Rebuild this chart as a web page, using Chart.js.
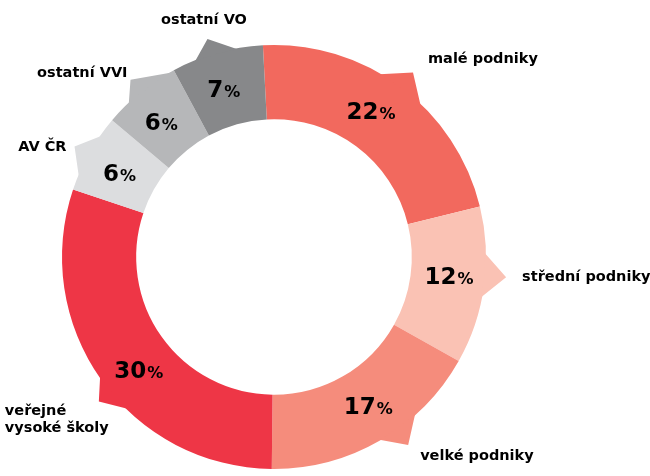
<!DOCTYPE html>
<html>
<head>
<meta charset="utf-8">
<script src="https://cdn.jsdelivr.net/npm/chart.js@4/dist/chart.umd.min.js"></script>
<style>
  html, body { margin: 0; padding: 0; background: #ffffff; }
  #wrap { width: 650px; height: 476px; }
</style>
</head>
<body>
<div id="wrap"><canvas id="c" width="650" height="476"></canvas></div>
<script>
// ---- data ----
const categories = ['malé podniky', 'střední podniky', 'velké podniky', ['veřejné', 'vysoké školy'], 'AV ČR', 'ostatní VVI', 'ostatní VO'];
const shares = [22, 12, 17, 30, 6, 6, 7];

// ---- styles ----
const colors = ['#F2695E', '#FAC2B4', '#F58C7C', '#EE3646', '#DCDDDF', '#B6B7B9', '#87888A'];
// callout tails: tip position as fraction of the arc, base extent before/after tip (deg), height (px)
const tails = [
  { f: 0.505, b1: 7, b2: 7, h: 19 },
  { f: 0.435, b1: 6, b2: 6, h: 21 },
  { f: 0.41, b1: 6.5, b2: 5.5, h: 19 },
  { f: 0.462, b1: 6.5, b2: 5, h: 15 },
  { f: 0.48, b1: 6.6, b2: 6, h: 16 },
  { f: 0.5, b1: 4.5, b2: 10, h: 16 },
  { f: 0.446, b1: 5, b2: 7, h: 16 }
];
// outer label placement relative to tail tip
const labelPos = [
  { align: 'left', dx: 15, dy: -13 },
  { align: 'left', dx: 16, dy: 0 },
  { align: 'left', dx: 12, dy: 11 },
  { align: 'left', dx: -94, dy: 10 },
  { align: 'right', dx: -8, dy: 1 },
  { align: 'right', dx: -3, dy: -7 },
  { align: 'center', dx: -3.5, dy: -19 }
];

const FONT = '"DejaVu Sans", Verdana, sans-serif';

const calloutPlugin = {
  id: 'callouts',
  afterDatasetsDraw(chart) {
    const ctx = chart.ctx;
    const meta = chart.getDatasetMeta(0);
    const values = chart.data.datasets[0].data;
    const labels = chart.data.labels;
    meta.data.forEach((arc, i) => {
      const p = arc.getProps(['x', 'y', 'startAngle', 'endAngle', 'outerRadius', 'innerRadius'], true);
      const span = p.endAngle - p.startAngle;
      const t = tails[i];
      const at = p.startAngle + span * t.f;
      const d2r = Math.PI / 180;
      const tipR = p.outerRadius + t.h;
      const tx = p.x + Math.cos(at) * tipR;
      const ty = p.y + Math.sin(at) * tipR;
      ctx.save();
      ctx.beginPath();
      ctx.arc(p.x, p.y, p.outerRadius - 1, at - t.b1 * d2r, at + t.b2 * d2r);
      ctx.lineTo(tx, ty);
      ctx.closePath();
      ctx.fillStyle = colors[i];
      ctx.fill();
      ctx.restore();

      // percentage label inside ring
      const la = p.startAngle + span * 0.46;
      const lr = (p.outerRadius + p.innerRadius) / 2 + 1;
      const lx = p.x + Math.cos(la) * lr;
      const ly = p.y + Math.sin(la) * lr;
      ctx.save();
      ctx.fillStyle = '#000000';
      ctx.textBaseline = 'alphabetic';
      const numTxt = String(values[i]);
      ctx.font = 'bold 23px ' + FONT;
      const wNum = ctx.measureText(numTxt).width;
      ctx.font = 'bold 16px ' + FONT;
      const wPct = ctx.measureText('%').width;
      const startX = lx - (wNum + wPct + 1) / 2;
      const base = ly + 8.5;
      ctx.textAlign = 'left';
      ctx.font = 'bold 23px ' + FONT;
      ctx.fillText(numTxt, startX, base);
      ctx.font = 'bold 16px ' + FONT;
      ctx.fillText('%', startX + wNum + 1, base);
      ctx.restore();

      // outer category label
      const lp = labelPos[i];
      const lines = Array.isArray(labels[i]) ? labels[i] : [labels[i]];
      ctx.save();
      ctx.fillStyle = '#000000';
      ctx.font = 'bold 14.5px ' + FONT;
      ctx.textAlign = lp.align;
      ctx.textBaseline = 'middle';
      lines.forEach((ln, k) => {
        ctx.fillText(ln, tx + lp.dx, ty + lp.dy + k * 17);
      });
      ctx.restore();
    });
  }
};

new Chart(document.getElementById('c'), {
  type: 'doughnut',
  data: {
    labels: categories,
    datasets: [{
      data: shares,
      backgroundColor: colors,
      borderWidth: 0,
      hoverOffset: 0
    }]
  },
  options: {
    responsive: false,
    animation: false,
    rotation: -3,
    cutout: '65%',
    layout: { padding: { left: 62, right: 164, top: 45, bottom: 7 } },
    plugins: {
      legend: { display: false },
      tooltip: { enabled: false }
    }
  },
  plugins: [calloutPlugin]
});
</script>
</body>
</html>
